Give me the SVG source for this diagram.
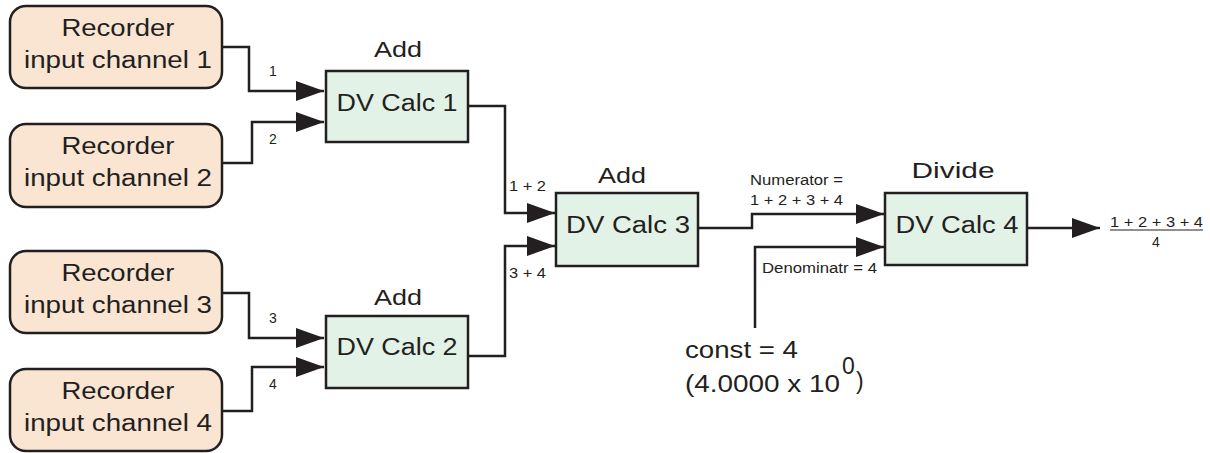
<svg xmlns="http://www.w3.org/2000/svg" width="1210" height="453" viewBox="0 0 1210 453">
<style>
.rec{fill:#fae5d3;stroke:#231f20;stroke-width:2.5}
.calc{fill:#e3f2e6;stroke:#231f20;stroke-width:2.5}
.big{font-family:"Liberation Sans",Arial,sans-serif;font-size:23px;fill:#231f20}
.mid{font-family:"Liberation Sans",Arial,sans-serif;font-size:22px;fill:#231f20}
.sm{font-family:"Liberation Sans",Arial,sans-serif;font-size:14px;fill:#231f20}
.wire{fill:none;stroke:#231f20;stroke-width:2.5;marker-end:url(#arr)}
</style>
<defs>
<marker id="arr" markerUnits="userSpaceOnUse" markerWidth="30" markerHeight="22" refX="28" refY="10" orient="auto" viewBox="0 0 30 22">
<path d="M0,0 L28,10 L0,20 z" fill="#231f20"/>
</marker>
</defs>
<g id="rec1"><rect class="rec" x="10" y="6" width="212" height="82" rx="16"/>
<text class="big" x="118" y="36" text-anchor="middle" textLength="113" lengthAdjust="spacingAndGlyphs">Recorder</text>
<text class="big" x="118" y="68" text-anchor="middle" textLength="188" lengthAdjust="spacingAndGlyphs">input channel 1</text></g>
<g id="rec2"><rect class="rec" x="10" y="124" width="212" height="83" rx="16"/>
<text class="big" x="118" y="154" text-anchor="middle" textLength="113" lengthAdjust="spacingAndGlyphs">Recorder</text>
<text class="big" x="118" y="186" text-anchor="middle" textLength="188" lengthAdjust="spacingAndGlyphs">input channel 2</text></g>
<g id="rec3"><rect class="rec" x="10" y="251" width="212" height="82" rx="16"/>
<text class="big" x="118" y="281" text-anchor="middle" textLength="113" lengthAdjust="spacingAndGlyphs">Recorder</text>
<text class="big" x="118" y="313" text-anchor="middle" textLength="188" lengthAdjust="spacingAndGlyphs">input channel 3</text></g>
<g id="rec4"><rect class="rec" x="10" y="369" width="212" height="82" rx="16"/>
<text class="big" x="118" y="399" text-anchor="middle" textLength="113" lengthAdjust="spacingAndGlyphs">Recorder</text>
<text class="big" x="118" y="431" text-anchor="middle" textLength="188" lengthAdjust="spacingAndGlyphs">input channel 4</text></g>
<g id="calc1"><rect class="calc" x="326" y="71" width="142" height="71"/>
<text class="mid" x="398" y="57" text-anchor="middle" textLength="48" lengthAdjust="spacingAndGlyphs">Add</text>
<text class="big" x="397" y="111" text-anchor="middle" textLength="121" lengthAdjust="spacingAndGlyphs">DV Calc 1</text></g>
<g id="calc2"><rect class="calc" x="326" y="316" width="142" height="72"/>
<text class="mid" x="398" y="305" text-anchor="middle" textLength="48" lengthAdjust="spacingAndGlyphs">Add</text>
<text class="big" x="397" y="355" text-anchor="middle" textLength="121" lengthAdjust="spacingAndGlyphs">DV Calc 2</text></g>
<g id="calc3"><rect class="calc" x="556" y="193" width="142" height="73"/>
<text class="mid" x="622" y="183" text-anchor="middle" textLength="48" lengthAdjust="spacingAndGlyphs">Add</text>
<text class="big" x="628" y="233" text-anchor="middle" textLength="124" lengthAdjust="spacingAndGlyphs">DV Calc 3</text></g>
<g id="calc4"><rect class="calc" x="885" y="193" width="142" height="72"/>
<text class="mid" x="953" y="178" text-anchor="middle" textLength="83" lengthAdjust="spacingAndGlyphs">Divide</text>
<text class="big" x="957" y="233" text-anchor="middle" textLength="123" lengthAdjust="spacingAndGlyphs">DV Calc 4</text></g>
<g id="const">
<text class="big" x="685" y="358" textLength="113" lengthAdjust="spacingAndGlyphs">const = 4</text>
<text class="big" x="685" y="392" textLength="155" lengthAdjust="spacingAndGlyphs">(4.0000 x 10</text>
<text class="big" x="842" y="374" font-size="20">0</text>
<text class="big" x="856" y="389">)</text>
</g>
<g id="connectors">
<path class="wire" d="M222,47 H249 V91 H324"/>
<path class="wire" d="M222,163 H252 V122 H324"/>
<path class="wire" d="M222,293 H249 V338 H324"/>
<path class="wire" d="M222,411 H252 V367 H324"/>
<path class="wire" d="M468,106 H505 V213 H555"/>
<path class="wire" d="M468,356 H505 V246 H555"/>
<path class="wire" d="M698,228 H752 V214 H884"/>
<path class="wire" d="M755,328 V247 H884"/>
<path class="wire" d="M1027,228 H1100"/>
<text class="sm" x="269" y="76">1</text>
<text class="sm" x="269" y="144">2</text>
<text class="sm" x="269" y="323">3</text>
<text class="sm" x="269" y="389">4</text>
<text class="sm" x="509" y="191" textLength="37" lengthAdjust="spacingAndGlyphs">1 + 2</text>
<text class="sm" x="509" y="278" textLength="37" lengthAdjust="spacingAndGlyphs">3 + 4</text>
<text class="sm" x="750" y="185" textLength="93" lengthAdjust="spacingAndGlyphs">Numerator =</text>
<text class="sm" x="750" y="205" textLength="93" lengthAdjust="spacingAndGlyphs">1 + 2 + 3 + 4</text>
<text class="sm" x="762" y="273" textLength="115" lengthAdjust="spacingAndGlyphs">Denominatr = 4</text>
<text class="sm" x="1110" y="227" textLength="93" lengthAdjust="spacingAndGlyphs">1 + 2 + 3 + 4</text>
<line x1="1110" y1="230" x2="1203" y2="230" stroke="#231f20" stroke-width="1"/>
<text class="sm" x="1156" y="247" text-anchor="middle">4</text>
</g>
</svg>
